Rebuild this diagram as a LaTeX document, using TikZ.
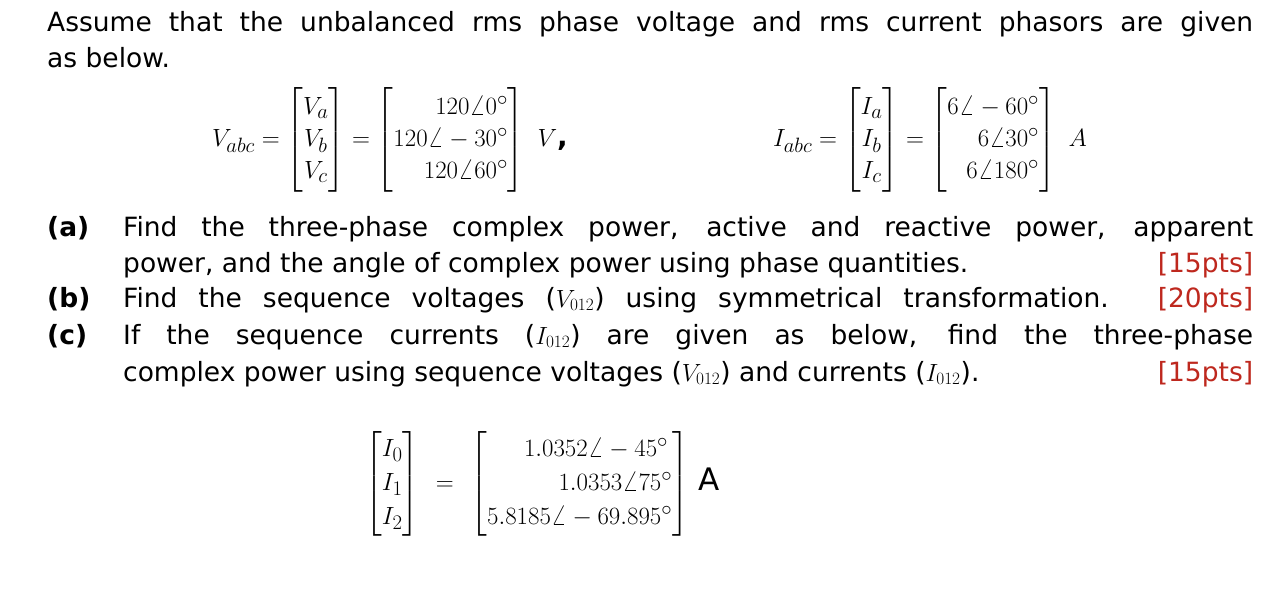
\documentclass[tikz,border=0pt]{standalone}
\usepackage{mathtools}
\usepackage{fontspec}
\setmainfont{DejaVu Sans}
\usetikzlibrary{positioning}
\definecolor{TagRed}{RGB}{190,40,30}
\tikzset{
    line/.style={anchor=base west, inner sep=0pt, font=\fontsize{26.5}{30}\selectfont},
    full line/.style={line, text width=1130pt, align=justify},
    eqn/.style={inner sep=0pt, font=\fontsize{28}{32}\selectfont}
}
\newcommand{\tagpts}[1]{\textcolor{TagRed}{[#1pts]}}
\newcommand{\fillline}[1]{{\parfillskip=0pt #1\par}}
\begin{document}
\begin{tikzpicture}[x=1pt, y=-1pt]
    \useasboundingbox (0,0) rectangle (1286,594);

    % Opening sentence
    \node (intro1) [line, text width=1206pt, align=justify] at (47,32)
        {\fillline{Assume that the unbalanced rms phase voltage and rms current phasors are given}};
    \node (intro2) [line] at (47,68) {as below.};

    % Given phasors
    \node (vabc) [eqn] at (390,140)
        {$V_{abc}=\begin{bmatrix}V_a\\V_b\\V_c\end{bmatrix}=
          \begin{bmatrix*}[r]120\angle0^\circ\\120\angle-30^\circ\\120\angle60^\circ\end{bmatrix*}\ V$\textbf{,}};
    \node (iabc) [eqn] at (930,140)
        {$I_{abc}=\begin{bmatrix}I_a\\I_b\\I_c\end{bmatrix}=
          \begin{bmatrix*}[r]6\angle-60^\circ\\6\angle30^\circ\\6\angle180^\circ\end{bmatrix*}\ A$};

    % Questions
    \node (qa) [line] at (47,236) {\textbf{(a)}};
    \node (qa1) [full line] at (123,236)
        {\fillline{Find the three-phase complex power, active and reactive power, apparent}};
    \node (qa2) [full line] at (123,272)
        {\fillline{power, and the angle of complex power using phase quantities.\hfill\tagpts{15}}};
    \node (qb) [line] at (47,307) {\textbf{(b)}};
    \node (qb1) [full line] at (123,307)
        {\fillline{Find the sequence voltages ($V_{012}$) using symmetrical transformation. \tagpts{20}}};
    \node (qc) [line] at (47,344) {\textbf{(c)}};
    \node (qc1) [full line] at (123,344)
        {\fillline{If the sequence currents ($I_{012}$) are given as below, find the three-phase}};
    \node (qc2) [full line] at (123,381)
        {\fillline{complex power using sequence voltages ($V_{012}$) and currents ($I_{012}$).\hfill\tagpts{15}}};

    % Sequence currents
    \node (i012) [eqn, font=\fontsize{31}{34}\selectfont, anchor=west] at (365,484)
        {$\begin{bmatrix}I_0\\I_1\\I_2\end{bmatrix}\ =\ 
          \begin{bmatrix*}[r]1.0352\angle-45^\circ\,\\1.0353\angle75^\circ\\5.8185\angle-69.895^\circ\end{bmatrix*}$ A};
\end{tikzpicture}
\end{document}
